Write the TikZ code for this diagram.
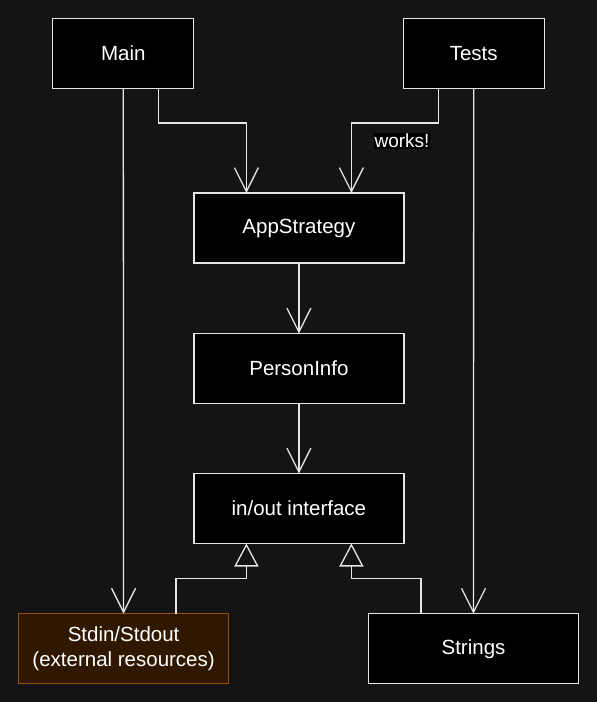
\documentclass[tikz,border=0pt]{standalone}
\usepackage{fontspec}
\setmainfont{Liberation Sans}
\usetikzlibrary{arrows.meta}
\definecolor{bg}{HTML}{141414}
\definecolor{linec}{HTML}{E6E6E6}
\definecolor{extfill}{HTML}{301800}
\definecolor{extdraw}{HTML}{98500A}
\tikzset{
  box/.style={draw=linec, fill=black, line width=1.3pt, minimum width=210pt,
    minimum height=70pt, inner sep=0pt, outer sep=0pt, text=white, align=center,
    font=\fontsize{20.5}{25}\selectfont},
  smallbox/.style={box, minimum width=141pt},
  extbox/.style={box, fill=extfill, draw=extdraw},
  conn/.style={draw=linec, line width=1.3pt,
    -{Straight Barb[length=24pt,width=24pt,line width=1.3pt]}},
  realize/.style={draw=linec, line width=1.3pt,
    -{Triangle[open,length=23pt,width=24pt,line width=1.3pt]}},
  edgelabel/.style={fill=black, text=white, inner sep=1pt,
    font=\fontsize{19}{22}\selectfont}
}
\begin{document}
\begin{tikzpicture}[x=1pt,y=-1pt]
\fill[bg] (0,0) rectangle (597,702);
\useasboundingbox (0,0) rectangle (597,702);

\node[smallbox] (Main) at (123.3,53.5) {Main};
\node[smallbox] (Tests) at (473.7,53.5) {Tests};
\node[box] (AppS) at (298.9,228) {AppStrategy};
\node[box] (Person) at (298.9,368.5) {PersonInfo};
\node[box] (IO) at (298.9,508.5) {in/out interface};
\node[extbox] (Stdin) at (123.6,648.7) {Stdin/Stdout\\(external resources)};
\node[box] (Strings) at (473.5,648.7) {Strings};

\draw[conn] ([xshift=35pt]Main.south) |- ([xshift=-52.5pt,yshift=70pt]AppS.north) -- ([xshift=-52.5pt]AppS.north);
\draw[conn] ([xshift=-35pt]Tests.south) |- ([xshift=52.5pt,yshift=70pt]AppS.north) -- ([xshift=52.5pt]AppS.north);
\node[edgelabel] (works) at (402,141) {works!};
\draw[conn] (Main.south) -- (Stdin.north);
\draw[conn] (Tests.south) -- (Strings.north);
\draw[conn] (AppS.south) -- (Person.north);
\draw[conn] (Person.south) -- (IO.north);
\draw[realize] ([xshift=52.5pt]Stdin.north) |- ([xshift=-52.5pt,yshift=-35pt]IO.south) -- ([xshift=-52.5pt]IO.south);
\draw[realize] ([xshift=-52.5pt]Strings.north) |- ([xshift=52.5pt,yshift=-35pt]IO.south) -- ([xshift=52.5pt]IO.south);
\end{tikzpicture}
\end{document}
